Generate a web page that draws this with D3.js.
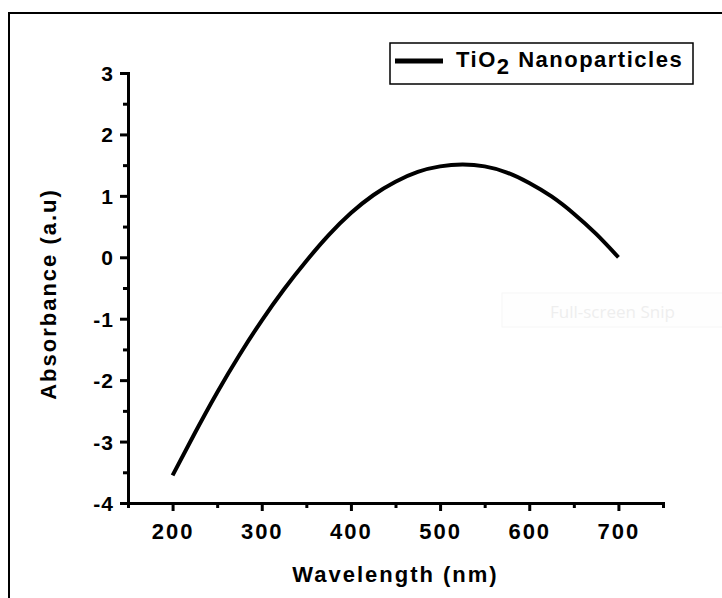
<!DOCTYPE html>
<html>
<head>
<meta charset="utf-8">
<script src="https://cdnjs.cloudflare.com/ajax/libs/d3/7.8.5/d3.min.js"></script>
<style>
  body { margin: 0; background: #fff; }
  svg { display: block; }
  text { font-family: "Liberation Sans", Arial, sans-serif; font-weight: bold; fill: #000; }
</style>
</head>
<body>
<div class="wrapper"></div>
<script>
// values
const wavelength = [200, 225, 250, 275, 300, 325, 350, 375, 400, 425, 450, 475, 500, 525, 550, 575, 600, 625, 650, 675, 700]
const absorbance = [-3.55, -2.86, -2.2, -1.59, -1.03, -0.52, -0.06, 0.36, 0.72, 1.01, 1.23, 1.39, 1.48, 1.51, 1.48, 1.38, 1.21, 0.99, 0.71, 0.38, 0.0]
const xTicks = [200, 300, 400, 500, 600, 700]
const xMinor = [150, 250, 350, 450, 550, 650, 750]
const yTicks = [-4, -3, -2, -1, 0, 1, 2, 3]
const yMinor = [-3.5, -2.5, -1.5, -0.5, 0.5, 1.5, 2.5]
const seriesName = ['TiO', '2', ' Nanoparticles']

const width = 722,
  height = 598

const svg = d3.select('.wrapper')
  .append('svg')
  .attr('width', width)
  .attr('height', height)

// outer frame (only top and left edges show)
svg.append('path')
  .attr('d', `M 9 ${height} V 13 H ${width}`)
  .attr('fill', 'none')
  .attr('stroke', '#000')
  .attr('stroke-width', 2)

const x = d3.scaleLinear().domain([150, 750]).range([128, 663])
const y = d3.scaleLinear().domain([-4, 3]).range([503, 73])

// faint snipping-tool overlay left in the screenshot
const snip = svg.append('g')
snip.append('rect')
  .attr('x', 502).attr('y', 293).attr('width', 240).attr('height', 34)
  .attr('fill', '#fefefe').attr('stroke', '#f6f6f6')
snip.append('text')
  .attr('x', 550).attr('y', 318)
  .style('font-family', '"Open Sans", sans-serif')
  .style('font-weight', 'normal')
  .style('font-size', '17px')
  .style('fill', '#eeeeee')
  .text('Full-screen Snip')

const fmt = d => String(d)

// x axis
const xAxis = svg.append('g')
  .attr('transform', `translate(0, ${y(-4)})`)
  .call(d3.axisBottom(x).tickValues(xTicks).tickSize(8).tickSizeOuter(0).tickPadding(12).tickFormat(fmt))
svg.append('g')
  .attr('transform', `translate(0, ${y(-4)})`)
  .call(d3.axisBottom(x).tickValues(xMinor).tickSize(5).tickSizeOuter(0).tickFormat(''))
  .select('.domain').remove()

// y axis
const yAxis = svg.append('g')
  .attr('transform', `translate(${x(150)}, 0)`)
  .call(d3.axisLeft(y).tickValues(yTicks).tickSize(8).tickSizeOuter(0).tickPadding(6).tickFormat(fmt))
svg.append('g')
  .attr('transform', `translate(${x(150)}, 0)`)
  .call(d3.axisLeft(y).tickValues(yMinor).tickSize(5).tickSizeOuter(0).tickFormat(''))
  .select('.domain').remove()

svg.selectAll('.domain').attr('stroke-width', 3).attr('stroke-linecap', 'square')
svg.selectAll('.tick line').attr('stroke-width', 3)

xAxis.selectAll('text')
  .style('font-size', '22px')
  .style('letter-spacing', '2px')
  .attr('fill', '#000')
yAxis.selectAll('text')
  .style('font-size', '21px')
  .style('letter-spacing', '1px')
  .attr('fill', '#000')
  .attr('dy', '0.36em')

// axis titles
svg.append('text')
  .attr('x', (x(150) + x(750)) / 2)
  .attr('y', 582)
  .attr('text-anchor', 'middle')
  .style('font-size', '22px')
  .style('letter-spacing', '2px')
  .text('Wavelength (nm)')

svg.append('text')
  .attr('transform', `translate(56, ${(y(-4) + y(3)) / 2 + 6}) rotate(-90)`)
  .attr('text-anchor', 'middle')
  .style('font-size', '22px')
  .style('letter-spacing', '2px')
  .text('Absorbance (a.u)')

// curve
const line = d3.line()
  .x((d, i) => x(wavelength[i]))
  .y(d => y(d))
  .curve(d3.curveNatural)

svg.append('path')
  .datum(absorbance)
  .attr('fill', 'none')
  .attr('stroke', '#000')
  .attr('stroke-width', 4)
  .attr('d', line)

// legend
const legend = svg.append('g')
legend.append('rect')
  .attr('x', 390).attr('y', 43).attr('width', 303).attr('height', 41)
  .attr('fill', '#fff').attr('stroke', '#000').attr('stroke-width', 1.5)
legend.append('line')
  .attr('x1', 395).attr('x2', 443).attr('y1', 61).attr('y2', 61)
  .attr('stroke', '#000').attr('stroke-width', 5)
const lt = legend.append('text')
  .attr('x', 456).attr('y', 67)
  .style('font-size', '22px')
  .style('letter-spacing', '1.5px')
lt.append('tspan').text(seriesName[0])
lt.append('tspan').attr('dy', 7).text(seriesName[1])
lt.append('tspan').attr('dy', -7).text(seriesName[2])
</script>
</body>
</html>
